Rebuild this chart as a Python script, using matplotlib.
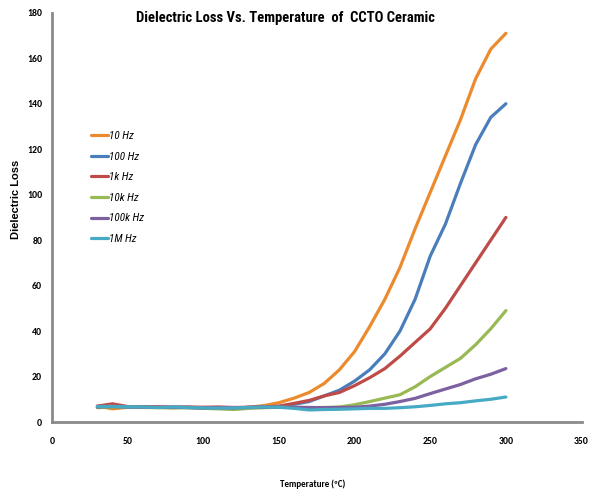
import numpy as np
import matplotlib.pyplot as plt

# temperature (C)
temp = [30, 40, 50, 60, 70, 80, 90, 100, 110, 120, 130, 140, 150, 160,
        170, 180, 190, 200, 210, 220, 230, 240, 250, 260, 270, 280, 290, 300]

loss_10hz = [7.0, 5.8, 6.5, 6.8, 6.5, 6.3, 6.5, 6.2, 6.2, 6.0, 6.5, 7.2, 8.5, 10.5,
             13.0, 17.0, 23.0, 31.0, 42.0, 54.0, 68.0, 85.0, 101.0, 117.0, 133.0, 151.0, 164.0, 171.0]
loss_100hz = [6.5, 6.8, 6.6, 6.5, 6.4, 6.5, 6.3, 6.2, 6.3, 6.1, 6.4, 6.5, 6.8, 7.8,
              9.0, 11.5, 14.0, 18.0, 23.0, 30.0, 40.0, 54.0, 73.0, 87.0, 105.0, 122.0, 134.0, 140.0]
loss_1khz = [7.0, 8.0, 6.8, 6.6, 6.7, 6.5, 6.6, 6.5, 6.6, 6.4, 6.5, 6.6, 7.0, 8.2,
             9.5, 11.5, 13.0, 16.0, 19.5, 23.5, 29.0, 35.0, 41.0, 50.0, 60.0, 70.0, 80.0, 90.0]
loss_10khz = [6.3, 6.6, 6.5, 6.4, 6.3, 6.2, 6.3, 6.0, 5.8, 5.5, 6.0, 6.3, 6.5, 6.4,
              6.3, 6.4, 6.6, 7.6, 9.0, 10.5, 12.0, 15.5, 20.0, 24.0, 28.0, 34.0, 41.0, 49.0]
loss_100khz = [6.6, 6.8, 6.6, 6.5, 6.4, 6.5, 6.4, 6.2, 6.3, 6.2, 6.4, 6.5, 6.6, 6.5,
               6.4, 6.3, 6.4, 6.5, 7.0, 7.8, 9.0, 10.4, 12.5, 14.5, 16.5, 19.0, 21.0, 23.5]
loss_1mhz = [6.8, 6.9, 6.7, 6.6, 6.4, 6.6, 6.4, 6.2, 6.1, 6.2, 6.4, 6.6, 6.5, 6.0,
             5.3, 5.5, 5.6, 5.8, 6.0, 6.0, 6.3, 6.7, 7.3, 8.0, 8.5, 9.3, 10.0, 11.0]

series = [("10 Hz", loss_10hz, "#EC8A2E"),
          ("100 Hz", loss_100hz, "#4A7EBB"),
          ("1k Hz", loss_1khz, "#BE4B48"),
          ("10k Hz", loss_10khz, "#98B954"),
          ("100k Hz", loss_100khz, "#7D60A0"),
          ("1M Hz", loss_1mhz, "#46AAC5")]

NARROW = ["Roboto Condensed", "DejaVu Sans"]
CALIBRI = ["Carlito", "DejaVu Sans"]

fig = plt.figure(figsize=(5.89, 4.93), dpi=100)
ax = fig.add_axes([0.0883, 0.144, 0.899, 0.83])

for name, vals, col in series:
    ax.plot(temp, vals, color=col, linewidth=2.3, label=name, solid_capstyle="round")

ax.set_xlim(0, 350)
ax.set_ylim(0, 180)
ax.set_xticks(np.arange(0, 351, 50))
ax.set_yticks(np.arange(0, 181, 20))
for s in ["top", "right"]:
    ax.spines[s].set_visible(False)
for s in ["left", "bottom"]:
    ax.spines[s].set_color("#8a8a8a")
    ax.spines[s].set_linewidth(2)
ax.tick_params(axis="x", length=0, pad=11)
ax.tick_params(axis="y", length=0, pad=7)
for lab in ax.get_xticklabels() + ax.get_yticklabels():
    lab.set_fontweight("bold")
    lab.set_family(CALIBRI)
    lab.set_fontsize(7)

fig.text(0.484, 0.963, "Dielectric Loss Vs. Temperature  of  CCTO Ceramic",
         ha="center", va="center", fontsize=10.5, fontweight="bold", family=NARROW)
fig.text(0.027, 0.595, "Dielectric Loss", rotation=90, ha="center", va="center",
         fontsize=8, fontweight="bold", family=["Liberation Sans", "DejaVu Sans"])
fig.text(0.531, 0.017, "Temperature (ºC)", ha="center", va="center",
         fontsize=6.5, fontweight="bold", family=CALIBRI)

leg = ax.legend(loc="upper left", bbox_to_anchor=(0.055, 0.735), frameon=False,
                handlelength=1.5, handletextpad=0.15, labelspacing=0.95,
                prop={"style": "italic", "size": 8, "family": NARROW})

fig.savefig("out.png", dpi=100)
